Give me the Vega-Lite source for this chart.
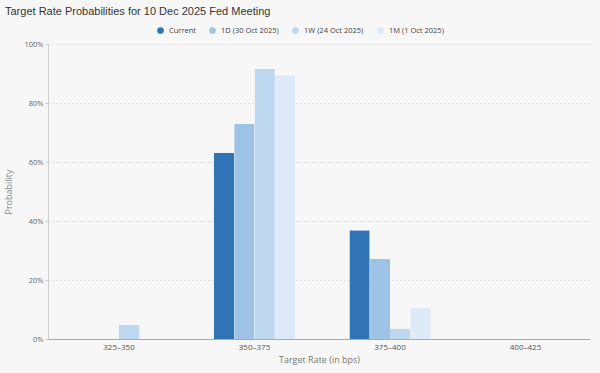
{
  "$schema": "https://vega.github.io/schema/vega-lite/v6.json",
  "width": 542,
  "height": 295,
  "autosize": {"type": "none"},
  "padding": {"left": 48, "top": 44, "right": 10, "bottom": 34},
  "background": "#f7f7f7",
  "title": {
    "text": "Target Rate Probabilities for 10 Dec 2025 Fed Meeting",
    "anchor": "start",
    "frame": "group",
    "font": "Liberation Sans",
    "fontSize": 11,
    "fontWeight": "normal",
    "color": "#333333",
    "dx": -43,
    "dy": -5
  },
  "data": {
    "values": [
      {"rate": "325-350", "series": "1W (24 Oct 2025)", "p": 4.8},
      {"rate": "350-375", "series": "Current", "p": 63.1},
      {"rate": "350-375", "series": "1D (30 Oct 2025)", "p": 72.9},
      {"rate": "350-375", "series": "1W (24 Oct 2025)", "p": 91.6},
      {"rate": "350-375", "series": "1M (1 Oct 2025)", "p": 89.4},
      {"rate": "375-400", "series": "Current", "p": 36.9},
      {"rate": "375-400", "series": "1D (30 Oct 2025)", "p": 27.1},
      {"rate": "375-400", "series": "1W (24 Oct 2025)", "p": 3.6},
      {"rate": "375-400", "series": "1M (1 Oct 2025)", "p": 10.6},
      {"rate": "400-425", "series": "Current", "p": 0}
    ]
  },
  "mark": {"type": "bar", "cornerRadiusTopLeft": 1, "cornerRadiusTopRight": 1},
  "encoding": {
    "x": {
      "field": "rate",
      "type": "nominal",
      "sort": ["325-350", "350-375", "375-400", "400-425"],
      "scale": {"paddingInner": 0.4, "paddingOuter": 0.2, "align": 0.56},
      "axis": {
        "title": "Target Rate (in bps)",
        "labelAngle": 0,
        "labelFont": "Open Sans",
        "labelFontSize": 8,
        "labelColor": "#555555",
        "labelPadding": 4,
        "ticks": false,
        "domainColor": "#aaaaaa",
        "titleFont": "Open Sans",
        "titleFontSize": 9,
        "titleFontWeight": "normal",
        "titleColor": "#777777",
        "titlePadding": 4,
        "labelExpr": "replace(datum.label, '-', '–')"
      }
    },
    "xOffset": {
      "field": "series",
      "type": "nominal",
      "sort": ["Current", "1D (30 Oct 2025)", "1W (24 Oct 2025)", "1M (1 Oct 2025)"],
      "scale": {"domain": ["Current", "1D (30 Oct 2025)", "1W (24 Oct 2025)", "1M (1 Oct 2025)"], "paddingInner": 0, "paddingOuter": 0}
    },
    "y": {
      "field": "p",
      "type": "quantitative",
      "scale": {"domain": [0, 100]},
      "axis": {
        "title": "Probability",
        "values": [0, 20, 40, 60, 80, 100],
        "labelExpr": "datum.value + '%'",
        "labelFont": "Open Sans",
        "labelFontSize": 7.5,
        "labelColor": "#666666",
        "tickSize": 3,
        "tickColor": "#cccccc",
        "domainColor": "#cccccc",
        "grid": true,
        "gridColor": "#cccccc",
        "gridDash": [1, 3],
        "titleFont": "Open Sans",
        "titleFontSize": 9,
        "titleFontWeight": "normal",
        "titleColor": "#888888",
        "titlePadding": 10
      }
    },
    "color": {
      "field": "series",
      "type": "nominal",
      "scale": {
        "domain": ["Current", "1D (30 Oct 2025)", "1W (24 Oct 2025)", "1M (1 Oct 2025)"],
        "range": ["#3174b6", "#9dc3e6", "#bdd7ee", "#ddeaf7"]
      },
      "legend": {
        "title": null,
        "orient": "none",
        "direction": "horizontal",
        "legendX": 108,
        "legendY": -18,
        "symbolType": "circle",
        "symbolSize": 45,
        "labelFont": "Open Sans",
        "labelFontSize": 7.5,
        "labelColor": "#444444",
        "columnPadding": 12,
        "symbolOpacity": 1
      }
    }
  },
  "config": {
    "view": {"stroke": null},
    "axis": {"labelFont": "Open Sans"}
  }
}
